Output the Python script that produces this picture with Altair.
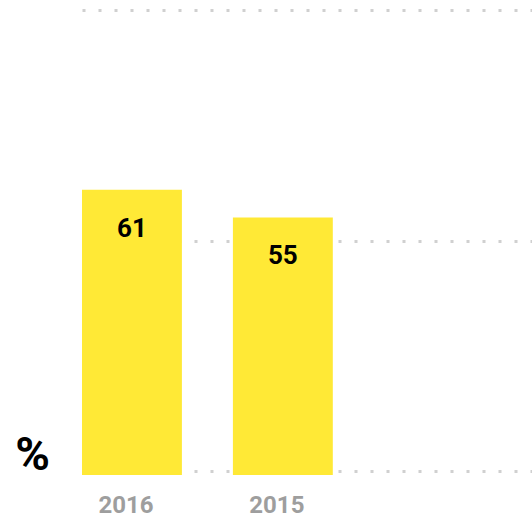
import altair as alt
import pandas as pd

years = ["2016", "2015"]
values = [61, 55]
grid_values = [0, 50, 100]

df = pd.DataFrame({"year": years, "value": values})

YELLOW = "#FFE936"

x = alt.X("year:N", sort=years,
          scale=alt.Scale(paddingInner=0.338, paddingOuter=0.66, align=0),
          axis=alt.Axis(title=None, domain=False, ticks=False, grid=False, labelOffset=-6,
                        labelFontSize=24, labelFont="Roboto", labelFontWeight="bold",
                        labelColor="#9e9e9e", labelPadding=22, labelAngle=0))
y = alt.Y("value:Q", scale=alt.Scale(domain=[0, 100], nice=False),
          axis=alt.Axis(values=grid_values, title="%", titleAngle=0, titleX=-50, titleY=459,
                        titleFontSize=47, titleFont="Roboto", titleFontWeight="bold",
                        titleColor="#000000", titleAlign="center", titleBaseline="alphabetic",
                        labels=False, ticks=False, domain=False,
                        grid=True, gridDash=[3, 13], gridColor="#d0d0d0", gridWidth=3))

bars = alt.Chart(df).mark_bar(color=YELLOW, y2Offset=4).encode(x=x, y=y, y2=alt.datum(0))
labels = alt.Chart(df).mark_text(font="Roboto", fontWeight="bold", fontSize=26, color="#000000",
                                 baseline="alphabetic", dy=47).encode(
    x=alt.X("year:N", sort=years), y="value:Q", text="value:Q")

chart = (bars + labels).properties(
    width=450, height=461,
    autosize=alt.AutoSizeParams(type="none"),
    padding={"left": 82, "top": 10, "right": 0, "bottom": 48},
).configure_view(stroke=None)

chart.save("out.html", embed_options={"renderer": "svg", "actions": False})
